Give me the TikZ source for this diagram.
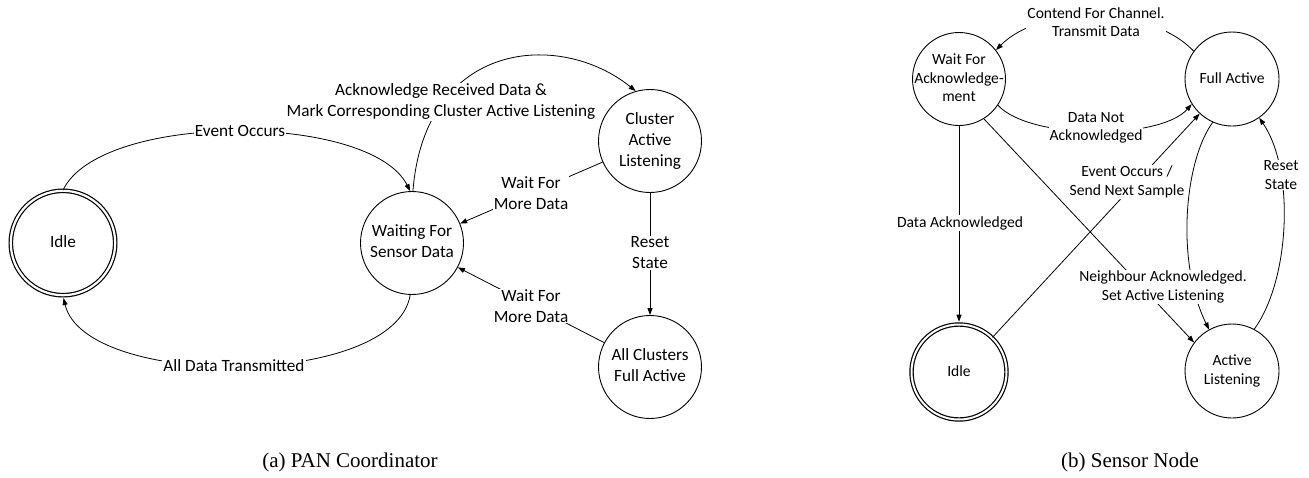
\documentclass[tikz,border=0pt]{standalone}
\usepackage{fontspec}
\setmainfont{Carlito}
\newfontfamily\capfont{Liberation Serif}
\usetikzlibrary{arrows.meta}
\newcommand\fA{\fontsize{17.2}{21}\selectfont}
\newcommand\fB{\fontsize{15.6}{18.5}\selectfont}
\newcommand\ctr[1]{\smash{\makebox[0pt]{\raisebox{-0.25em}{\begin{tabular}{@{}c@{}}#1\end{tabular}}}}}
\begin{document}
\begin{tikzpicture}[x=1pt,y=-1pt,
  stnode/.style={circle,draw,line width=0.9pt,inner sep=0pt,minimum size=#1},
  accnode/.style={circle,draw,double,double distance=2.2pt,line width=1.2pt,inner sep=0pt,minimum size=#1},
  arr/.style={line width=0.8pt,-{Triangle[length=7pt,width=5pt]}},
  lblA/.style={font=\fA,align=center,fill=white,inner sep=1pt},
  lblB/.style={font=\fB,align=center,fill=white,inner sep=1pt},
  captxt/.style={font=\capfont\fontsize{21}{25}\selectfont,inner sep=0pt}]
\useasboundingbox (0,0) rectangle (1309,477);
% (a) PAN Coordinator
\node[accnode=104.4, font=\fA] (idleA) at (63,243) {\ctr{Idle}};
\node[stnode=103, font=\fA] (wait) at (412,243) {\ctr{Waiting For\\Sensor Data}};
\node[stnode=103, font=\fA] (cal) at (650,141) {\ctr{Cluster\\Active\\Listening}};
\node[stnode=103, font=\fA] (acf) at (650,367) {\ctr{All Clusters\\Full Active}};

\draw[arr] (idleA.90) .. controls (100,112) and (370,112) .. (wait.92);
\draw[arr, shorten >=2.3pt] (wait.268) .. controls (395,389) and (85,389) .. (idleA.270);
\draw[arr] (wait.89) .. controls (425,40) and (560,30) .. (cal.106);
\draw[arr] (cal.204) -- (wait.22);
\draw[arr] (cal.south) -- (acf.north);
\draw[arr] (acf.152) -- (wait.-28);

\node[lblA] (lEv) at (240,131) {Event Occurs};
\node[lblA] (lAll) at (234,366) {All Data Transmitted};
\node[lblA] (lAck) at (441,102) {Acknowledge Received Data \&\\Mark Corresponding Cluster Active Listening};
\node[lblA] (lW1) at (531,193) {Wait For\\More Data};
\node[lblA] (lW2) at (531,306) {Wait For\\More Data};
\node[lblA] (lR) at (650,253) {Reset\\State};

% (b) Sensor Node
\node[stnode=93, font=\fB] (wfa) at (959,79) {\ctr{Wait For\\Acknowledge-\\ment}};
\node[stnode=94, font=\fB] (fa) at (1232,79) {\ctr{Full Active}};
\node[accnode=95, double distance=2pt, font=\fB] (idleB) at (959,372) {\ctr{Idle}};
\node[stnode=94, font=\fB] (al) at (1232,371) {\ctr{Active\\Listening}};

\draw[arr] (fa.144) .. controls (1150,5) and (1040,5) .. (wfa.38);
\draw[arr] (wfa.-34) .. controls (1030,140) and (1160,140) .. (fa.212);
\draw[arr, shorten >=2.2pt] (wfa.south) -- (idleB.north);
\draw[arr] (idleB.46) -- (fa.227);
\draw[arr] (wfa.-58) -- (al.143);
\draw[arr] (fa.246) .. controls (1185,160) and (1175,260) .. (al.119);
\draw[arr] (al.62) .. controls (1290,280) and (1295,170) .. (fa.-55);

\node[lblB] (lCon) at (1096,22) {Contend For Channel.\\Transmit Data};
\node[lblB] (lDN) at (1096,128) {Data Not\\Acknowledged};
\node[lblB] (lDA) at (960,223) {Data Acknowledged};
\node[lblB] (lEO) at (1127,182) {Event Occurs /\\Send Next Sample};
\node[lblB] (lNA) at (1163,287) {Neighbour Acknowledged.\\Set Active Listening};
\node[lblB] (lRS) at (1281,175) {Reset\\State};

\node[captxt] (capA) at (350,462) {(a) PAN Coordinator};
\node[captxt] (capB) at (1130,462) {(b) Sensor Node};
\end{tikzpicture}
\end{document}
